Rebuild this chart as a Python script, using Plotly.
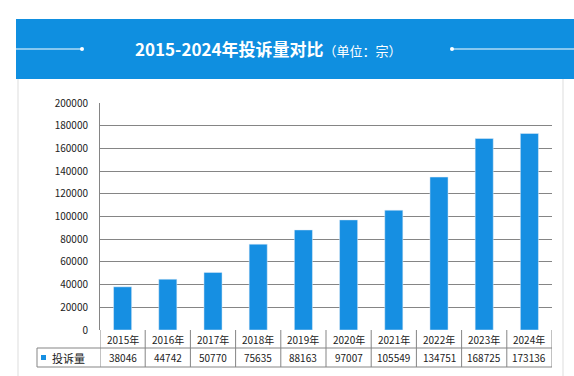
import plotly.graph_objects as go

years = ["2015年", "2016年", "2017年", "2018年", "2019年", "2020年", "2021年", "2022年", "2023年", "2024年"]
complaints = [38046, 44742, 50770, 75635, 88163, 97007, 105549, 134751, 168725, 173136]
series_name = "投诉量"
title_main = "2015-2024年投诉量对比"
title_unit = "（单位：宗）"
y_ticks = [0, 20000, 40000, 60000, 80000, 100000, 120000, 140000, 160000, 180000, 200000]

W, H = 574, 376
L, R, T, B = 100, 22, 103, 46
pw, ph = W - L - R, H - T - B

def px_x(x):
    return (x - L) / pw

def px_y(y):
    return (H - B - y) / ph

BAR = "#168fe2"
HEAD = "#0f8fe0"
TXT = "#222222"
LINE = "#858585"

idx = list(range(len(years)))
fig = go.Figure()
fig.add_trace(go.Bar(x=idx, y=complaints, marker_color=BAR, width=0.4, showlegend=False, hoverinfo="skip"))

shapes = []
annos = []
# header band
shapes.append(dict(type="rect", xref="paper", yref="paper", x0=px_x(16), x1=px_x(576), y0=px_y(79), y1=px_y(19),
                   fillcolor=HEAD, line_width=0, layer="below"))
# header lines and dots
shapes.append(dict(type="line", xref="paper", yref="paper", x0=px_x(16), x1=px_x(82), y0=px_y(49), y1=px_y(49),
                   line=dict(color="white", width=1)))
shapes.append(dict(type="line", xref="paper", yref="paper", x0=px_x(452), x1=px_x(576), y0=px_y(49), y1=px_y(49),
                   line=dict(color="white", width=1)))
for cx in (82, 452):
    shapes.append(dict(type="circle", xref="paper", yref="paper", x0=px_x(cx - 2), x1=px_x(cx + 2),
                       y0=px_y(51), y1=px_y(47), fillcolor="white", line_width=0))
# outer frame sides
for fx in (18, 563):
    shapes.append(dict(type="line", xref="paper", yref="paper", x0=px_x(fx), x1=px_x(fx), y0=px_y(79), y1=px_y(380),
                       line=dict(color="#dddddd", width=1)))

# table
y0, y1, y2 = px_y(330), px_y(348), px_y(367)
xl = px_x(37)
shapes.append(dict(type="line", xref="paper", yref="paper", x0=xl, x1=1, y0=y1, y1=y1, line=dict(color=LINE, width=1)))
shapes.append(dict(type="line", xref="paper", yref="paper", x0=xl, x1=1, y0=y2, y1=y2, line=dict(color=LINE, width=1)))
shapes.append(dict(type="line", xref="paper", yref="paper", x0=xl, x1=xl, y0=y1, y1=y2, line=dict(color=LINE, width=1)))
for i in range(len(years) + 1):
    shapes.append(dict(type="line", xref="x", yref="paper", x0=i - 0.5, x1=i - 0.5, y0=y0, y1=y2,
                       line=dict(color=LINE, width=1)))
for i, (yr, v) in enumerate(zip(years, complaints)):
    annos.append(dict(x=i, y=(y0 + y1) / 2, xref="x", yref="paper", text=yr, showarrow=False,
                      xanchor="center", yanchor="middle", font=dict(size=10, color=TXT)))
    annos.append(dict(x=i, y=(y1 + y2) / 2, xref="x", yref="paper", text=str(v), showarrow=False,
                      xanchor="center", yanchor="middle", font=dict(size=10, color=TXT)))
# legend cell
shapes.append(dict(type="rect", xref="paper", yref="paper", x0=px_x(41), x1=px_x(46), y0=px_y(360), y1=px_y(355),
                   fillcolor=BAR, line_width=0))
annos.append(dict(x=px_x(50), y=(y1 + y2) / 2, xref="paper", yref="paper", xanchor="left", yanchor="middle",
                  text=series_name, showarrow=False, font=dict(size=11, color=TXT)))

# title
annos.append(dict(x=px_x(268), y=px_y(49), xref="paper", yref="paper", showarrow=False,
                  xanchor="center", yanchor="middle",
                  text="<b>" + title_main + "</b><span style='font-size:13px'>" + title_unit + "</span>",
                  font=dict(size=17, color="white", family="Noto Sans CJK SC")))

fig.update_layout(
    width=W, height=H, margin=dict(l=L, r=R, t=T, b=B),
    paper_bgcolor="white", plot_bgcolor="white",
    font=dict(family="Noto Sans CJK SC, DejaVu Sans", size=10, color=TXT),
    xaxis=dict(range=[-0.5, len(years) - 0.5], showticklabels=False, showgrid=False, zeroline=False,
               ticks="", showline=False, fixedrange=True),
    yaxis=dict(range=[0, 200000], tickvals=y_ticks, ticktext=[str(t) for t in y_ticks], showgrid=True,
               gridcolor=LINE, gridwidth=1, zeroline=False, showline=True, linecolor=LINE, ticks="",
               tickfont=dict(size=10, color=TXT), ticklabelstandoff=9, fixedrange=True),
    shapes=shapes, annotations=annos,
)
fig.write_html("out.html", config={"displayModeBar": False},
               post_script="document.body.style.margin='0';document.body.style.overflow='hidden';")
